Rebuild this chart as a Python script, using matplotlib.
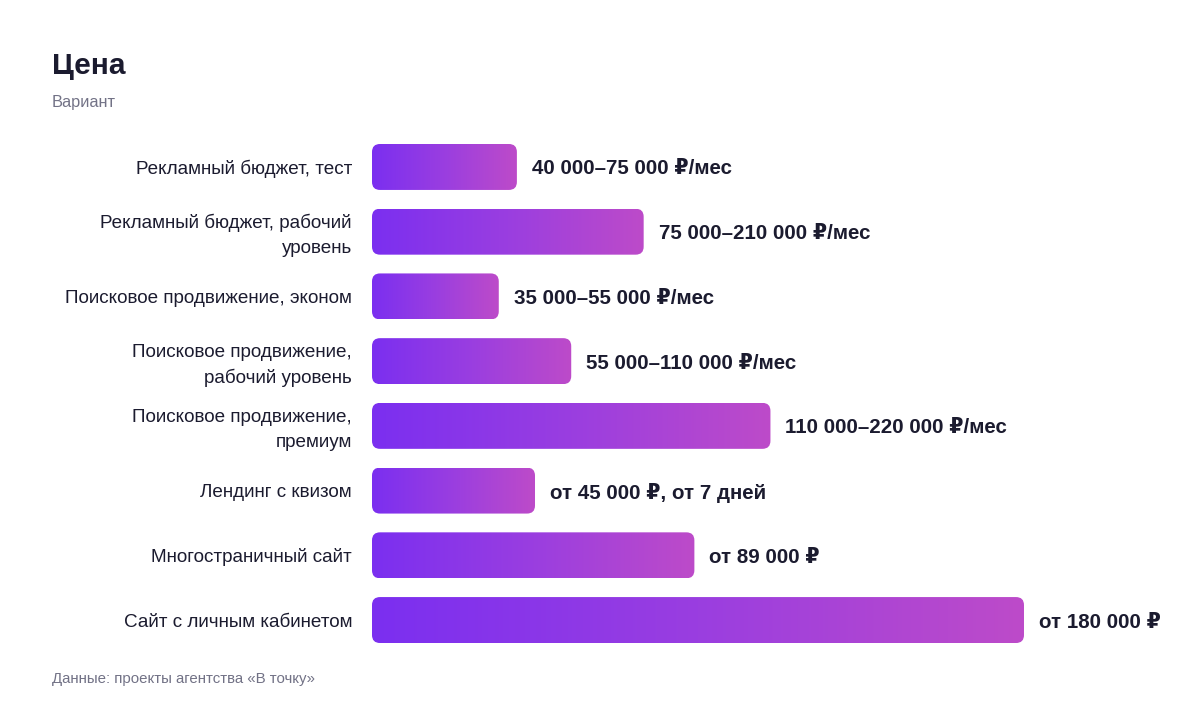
import matplotlib.pyplot as plt
import numpy as np
from matplotlib.colors import LinearSegmentedColormap
from matplotlib.patches import FancyBboxPatch

categories = [
    'Рекламный бюджет, тест',
    'Рекламный бюджет, рабочий\nуровень',
    'Поисковое продвижение, эконом',
    'Поисковое продвижение,\nрабочий уровень',
    'Поисковое продвижение,\nпремиум',
    'Лендинг с квизом',
    'Многостраничный сайт',
    'Сайт с личным кабинетом',
]
values = [40000, 75000, 35000, 55000, 110000, 45000, 89000, 180000]
value_labels = [
    '40 000–75 000 ₽/мес',
    '75 000–210 000 ₽/мес',
    '35 000–55 000 ₽/мес',
    '55 000–110 000 ₽/мес',
    '110 000–220 000 ₽/мес',
    'от 45 000 ₽, от 7 дней',
    'от 89 000 ₽',
    'от 180 000 ₽',
]

FONT = ['Liberation Sans', 'DejaVu Sans']
DARK = '#1b1b2f'
GRAY = '#727286'
plt.rcParams['font.family'] = FONT

W, H = 1200, 712
fig = plt.figure(figsize=(W / 100, H / 100), dpi=100)
ax_l, ax_r = 372, 1024
ax_top, ax_bot = 134.6, 652.4
ax = fig.add_axes([ax_l / W, (H - ax_bot) / H, (ax_r - ax_l) / W, (ax_bot - ax_top) / H])

n = len(categories)
xmax = max(values)
cmap = LinearSegmentedColormap.from_list('bar', ['#7b2ff0', '#9a3ee0', '#bd4bc9'])
grad = np.linspace(0, 1, 256).reshape(1, -1)

# data units per pixel, for round corners
xpp = xmax / (ax_r - ax_l)
ypp = n / (ax_bot - ax_top)
bh = 0.71
for i, (v, lab, cat) in enumerate(zip(values, value_labels, categories)):
    y = i
    patch = FancyBboxPatch((0, y - bh / 2), v, bh,
                           boxstyle='round,pad=0,rounding_size=%f' % (8 * xpp),
                           mutation_aspect=ypp / xpp,
                           facecolor='none', edgecolor='none')
    ax.add_patch(patch)
    im = ax.imshow(grad, cmap=cmap, aspect='auto',
                   extent=(0, v, y + bh / 2, y - bh / 2), interpolation='bilinear')
    im.set_clip_path(patch)
    ax.annotate(lab, (v, y), xytext=(10.8, 0), textcoords='offset points',
                ha='left', va='center_baseline', fontsize=14.8, fontweight='bold',
                color=DARK, annotation_clip=False)
    # category label, one text per line so the spacing stays even
    lines = cat.split('\n')
    for k, line in enumerate(lines):
        dy = ((len(lines) - 1) / 2 - k) * 18 - (1.5 if len(lines) > 1 else 0)
        ax.annotate(line, (0, y), xytext=(-14.4, dy), textcoords='offset points',
                    ha='right', va='center_baseline', fontsize=13.6,
                    color=DARK, annotation_clip=False)

ax.set_xlim(0, xmax)
ax.set_ylim(n - 0.5, -0.5)
ax.set_xticks([])
ax.set_yticks([])
for s in ax.spines.values():
    s.set_visible(False)

fig.text(52 / W, 1 - 66 / H, 'Цена', fontsize=21.5, fontweight='bold',
         color=DARK, va='center', ha='left')
fig.text(52 / W, 1 - 103 / H, 'Вариант', fontsize=11.8, color=GRAY,
         va='center', ha='left')
fig.text(52 / W, 1 - 679 / H, 'Данные: проекты агентства «В точку»', fontsize=10.8,
         color=GRAY, va='center', ha='left')

fig.savefig('out.png', dpi=100, facecolor='white')
